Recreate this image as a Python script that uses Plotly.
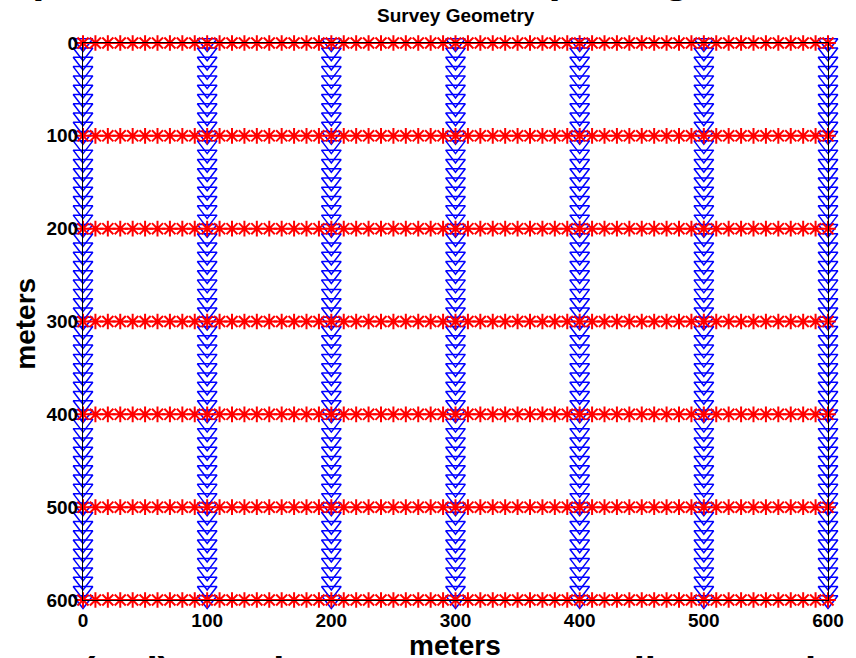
import plotly.graph_objects as go

# Survey geometry (meters)
line_positions = [0, 100, 200, 300, 400, 500, 600]
station_positions = [0, 10, 20, 30, 40, 50, 60, 70, 80, 90,
                     100, 110, 120, 130, 140, 150, 160, 170, 180, 190,
                     200, 210, 220, 230, 240, 250, 260, 270, 280, 290,
                     300, 310, 320, 330, 340, 350, 360, 370, 380, 390,
                     400, 410, 420, 430, 440, 450, 460, 470, 480, 490,
                     500, 510, 520, 530, 540, 550, 560, 570, 580, 590,
                     600]
tick_values = [0, 100, 200, 300, 400, 500, 600]
tick_labels = ["0", "100", "200", "300", "400", "500", "600"]

title_text = "Survey Geometry"
x_label = "meters"
y_label = "meters"
slide_top_text = "Spread and receiver line spacing"
slide_bottom_left = "(red) spacing 10 m"
slide_bottom_right = "Source line spacing"

FONT = "Liberation Sans, Arial, Helvetica, sans-serif"

# receivers: blue, along vertical lines
rx, ry = [], []
for lx in line_positions:
    for s in station_positions:
        rx.append(lx)
        ry.append(s)

# sources: red, along horizontal lines
sx, sy = [], []
for ly in line_positions:
    for s in station_positions:
        sx.append(s)
        sy.append(ly)

fig = go.Figure()
fig.add_trace(go.Scatter(
    x=rx, y=ry, mode="markers", cliponaxis=False, showlegend=False,
    marker=dict(symbol="triangle-down-open", size=17, color="rgb(0,0,255)",
                line=dict(width=1.5, color="rgb(0,0,255)")),
))
fig.add_trace(go.Scatter(
    x=sx, y=sy, mode="markers", cliponaxis=False, showlegend=False,
    marker=dict(symbol="asterisk-open", size=13, color="rgb(255,0,0)",
                line=dict(width=2, color="rgb(255,0,0)")),
))

L, R, T, B = 83, 19, 43, 58
W, H = 856, 658
pw, ph = W - L - R, H - T - B


def px_x(p):
    return (p - L) / pw


def px_y(p):
    return (H - B - p) / ph


axis_common = dict(
    showgrid=False, zeroline=False, showline=True, linecolor="black",
    linewidth=1, mirror=True, tickvals=tick_values,
    ticktext=tick_labels,
    tickfont=dict(family=FONT, size=19, color="black", weight="bold"),
)

fig.update_layout(
    width=W, height=H,
    margin=dict(l=L, r=R, t=T, b=B),
    paper_bgcolor="white", plot_bgcolor="white",
    xaxis=dict(range=[0, 600], ticks="outside", ticklen=3,
               tickcolor="rgba(0,0,0,0)", **axis_common),
    yaxis=dict(range=[600, 0], ticks="", **axis_common),
    annotations=[
        dict(text=title_text, xref="paper", yref="paper",
             x=px_x(460), y=px_y(16), xanchor="center", yanchor="middle",
             showarrow=False,
             font=dict(family=FONT, size=19, color="black", weight="bold")),
        dict(text=x_label, xref="paper", yref="paper",
             x=px_x(459), y=px_y(645), xanchor="center", yanchor="middle",
             showarrow=False,
             font=dict(family=FONT, size=28, color="black", weight="bold")),
        dict(text=y_label, xref="paper", yref="paper",
             x=px_x(24), y=px_y(324), xanchor="center", yanchor="middle",
             textangle=-90, showarrow=False,
             font=dict(family=FONT, size=28, color="black", weight="bold")),
        dict(text=slide_top_text, xref="paper", yref="paper",
             x=px_x(0), y=px_y(-23), xanchor="left", yanchor="middle",
             showarrow=False,
             font=dict(family=FONT, size=44, color="black", weight="bold")),
        dict(text=slide_bottom_left, xref="paper", yref="paper",
             x=px_x(80), y=px_y(672), xanchor="left", yanchor="middle",
             showarrow=False,
             font=dict(family=FONT, size=40, color="black", weight="bold")),
        dict(text=slide_bottom_right, xref="paper", yref="paper",
             x=px_x(490), y=px_y(672), xanchor="left", yanchor="middle",
             showarrow=False,
             font=dict(family=FONT, size=40, color="black", weight="bold")),
    ],
)

fig.write_html("out.html")
